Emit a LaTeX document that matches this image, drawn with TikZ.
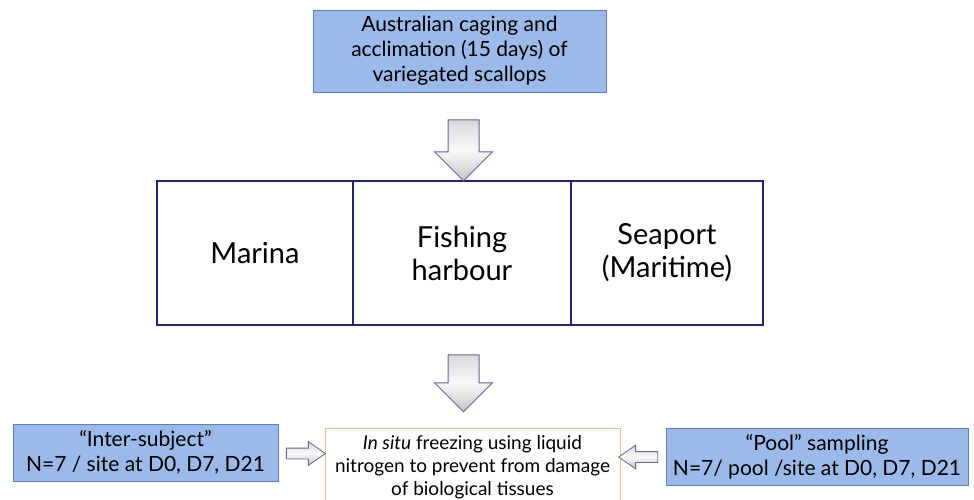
\documentclass[tikz,border=0pt]{standalone}
\usepackage{fontspec}
\setmainfont{Lato}
\usetikzlibrary{shapes.arrows}
\definecolor{boxblue}{RGB}{155,185,233}
\definecolor{boxedge}{RGB}{95,125,185}
\definecolor{siteedge}{RGB}{30,40,110}
\definecolor{peach}{RGB}{246,185,145}
\definecolor{arrowedge}{RGB}{95,105,140}
\begin{document}
\begin{tikzpicture}[x=1pt,y=-1pt]
    \tikzstyle{bluebox}=[rectangle,draw=boxedge,fill=boxblue,line width=1pt,align=center,inner sep=0pt,font=\fontsize{21}{25}\selectfont]
    \tikzstyle{site}=[rectangle,draw=siteedge,line width=1.5pt,minimum height=144pt,align=center,font=\fontsize{29}{33}\selectfont]
    \tikzstyle{bigarrow}=[single arrow,draw=arrowedge,line width=1pt,top color=gray!30,bottom color=gray!45,middle color=gray!5,
                          inner xsep=0pt,inner ysep=15pt,minimum width=57pt,single arrow head extend=13.5pt,rotate=-90]
    \tikzstyle{smallarrow}=[single arrow,draw=arrowedge,line width=0.8pt,top color=gray!30,bottom color=gray!45,middle color=gray!5,
                          inner xsep=0pt,inner ysep=5pt,minimum width=23pt,minimum height=39pt,single arrow head extend=6.5pt,single arrow tip angle=70]
    \useasboundingbox (0,0) rectangle (974,499);

    \node[bluebox,minimum width=293pt,minimum height=82pt] (caging) at (459.5,51)
        {Australian caging and\\acclimation (15 days) of\\variegated scallops};

    % sites
    \node[site,minimum width=196pt] (marina)  at (255,253) {Marina};
    \node[site,minimum width=218pt] (fishing) at (462,253) {Fishing\\harbour};
    \node[site,minimum width=192pt] (seaport) at (667,253) {Seaport\\(Maritime)};

    \node[bigarrow,minimum height=61pt] (down1) at (463.5,142.5) {};
    \node[bigarrow,minimum height=57pt] (down2) at (463.5,375.5) {};

    % sampling
    \node[bluebox,minimum width=265pt,minimum height=57pt] (inter) at (145.5,452.5)
        {“Inter-subject”\\N=7 / site at D0, D7, D21};
    \node[rectangle,draw=peach,line width=0.8pt,minimum width=295pt,minimum height=90pt,anchor=north,align=center,
          font=\fontsize{19}{23}\selectfont] (freezing) at (472.5,428)
        {\textit{In situ} freezing using liquid\\nitrogen to prevent from damage\\of biological tissues\\[-7pt]\mbox{}};
    \node[bluebox,minimum width=302pt,minimum height=57pt] (pool) at (817,456.5)
        {“Pool” sampling\\N=7/ pool /site at D0, D7, D21};

    \node[smallarrow] (toleft)  at (302,453.5) {};
    \node[smallarrow,shape border rotate=180] (toright) at (642,457) {};

\end{tikzpicture}
\end{document}
